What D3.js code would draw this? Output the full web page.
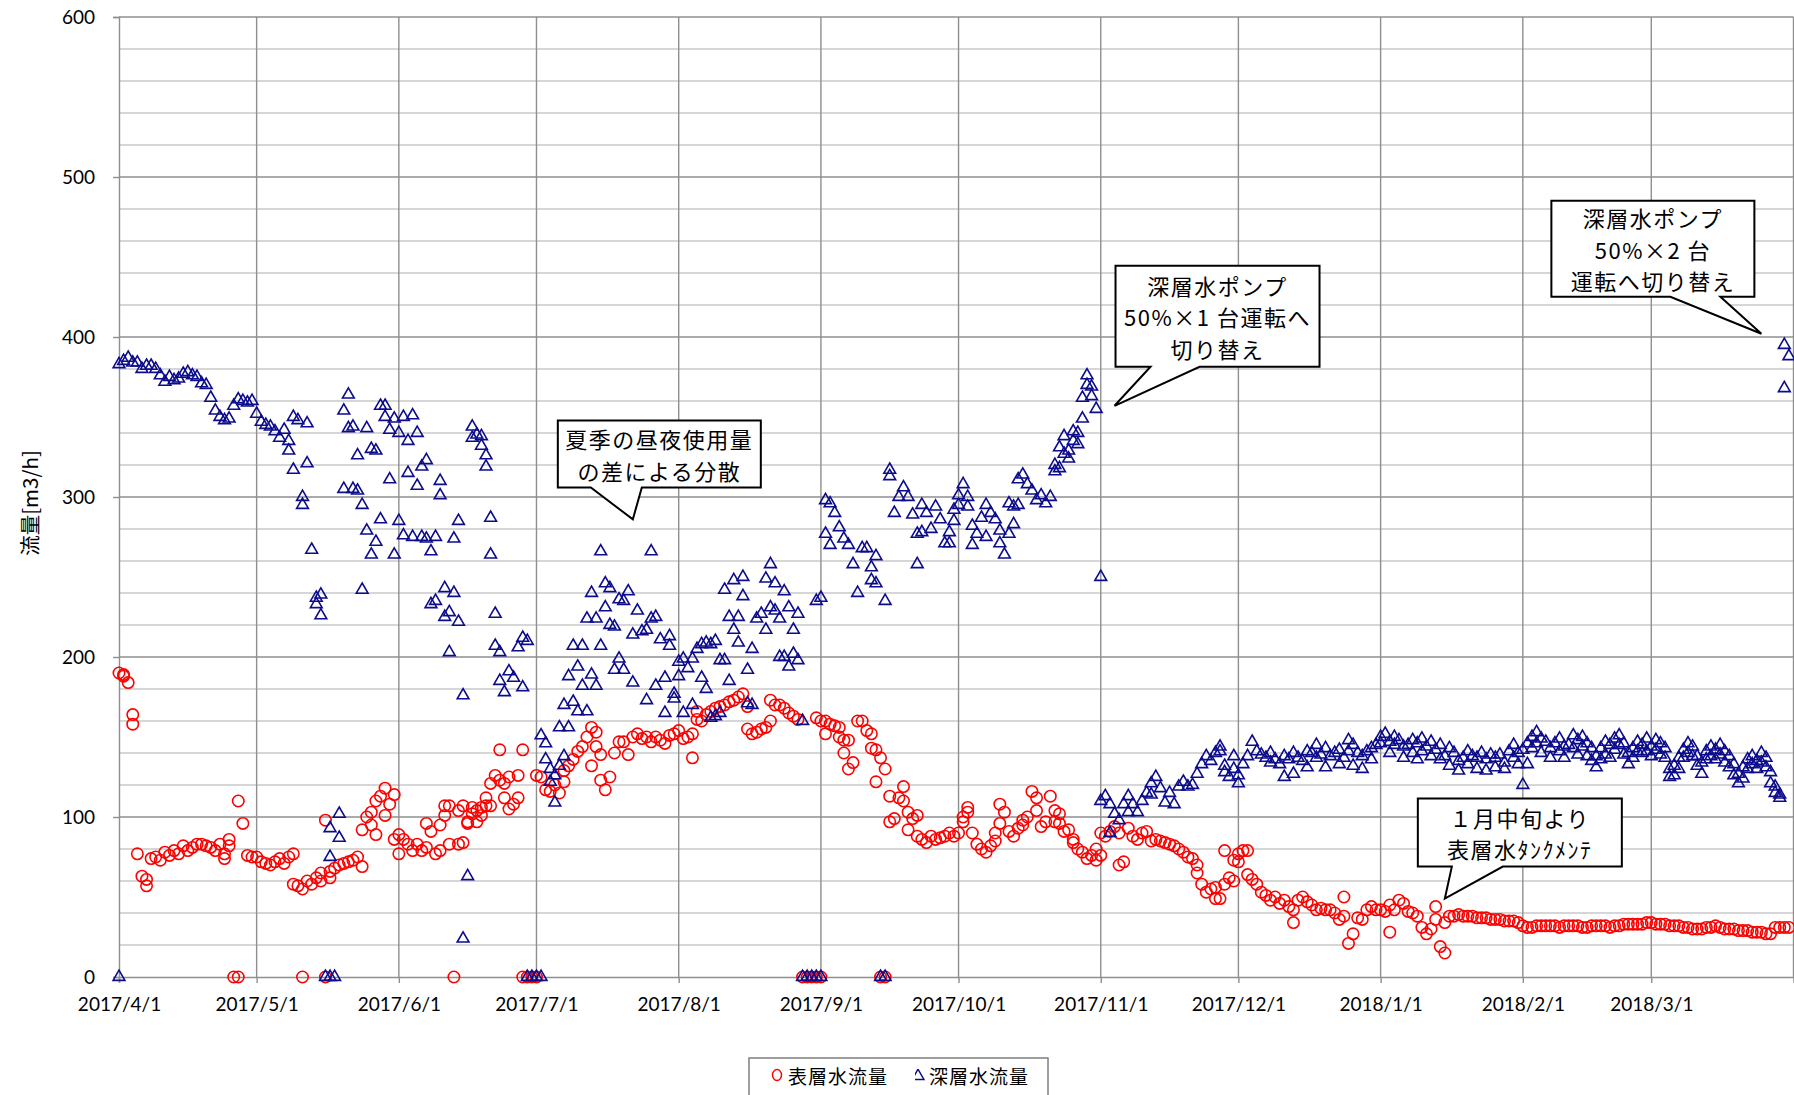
<!DOCTYPE html>
<html>
<head>
<meta charset="utf-8">
<script src="https://cdn.jsdelivr.net/npm/d3@7"></script>
<style>
  body { margin: 0; background: #fff; }
  svg { display: block; }
  .jp { font-family: "Noto Sans CJK JP", sans-serif; }
</style>
</head>
<body>
<svg id="chart" width="1794" height="1095"></svg>
<script>
// first day of the daily series, and the month labels on the x axis
const firstDay = '2017-04-01'
const lastDay = '2018-04-01'
const monthLabels = ['2017/4/1', '2017/5/1', '2017/6/1', '2017/7/1', '2017/8/1', '2017/9/1',
  '2017/10/1', '2017/11/1', '2017/12/1', '2018/1/1', '2018/2/1', '2018/3/1']
const yTicks = [0, 100, 200, 300, 400, 500, 600]
const seriesNames = ['表層水流量', '深層水流量']

// one entry per day, a [a, b] pair where the day has two readings (m3/h)
const surfaceFlow = [
  // Apr
  190, [188, 189], 184, [158, 164], 77, 63, [57, 61], 74, 75, 73, 78, 76, 79, 77, 82, 79, 81, 83, 83, 82, 81, 79, 83, [77, 74], [86, 82], 0, [0, 110], 96, 76, 75,
  // May
  75, 72, 71, 70, 72, 74, 71, 75, [77, 58], 57, [0, 55], 60, 58, 62, [65, 60], [0, 98], [62, 66], 68, 70, 71, 72, 73, 75, [69, 92], 100, [103, 95], [89, 110], 113, [118, 101], 108, [114, 86],
  // Jun
  [89, 77], 86, 83, 79, 83, 79, [96, 81], 91, 77, [95, 79], [101, 107], [107, 83], 0, [104, 83], [107, 84], [96, 97], [102, 106], [97, 104], [101, 106], [107, 112], [107, 121], 126, [123, 142], [112, 121], [105, 125], 108, [112, 126], [142, 0], 0, 0,
  // Jul
  [0, 126], 125, 117, 116, 120, 115, [122, 129], 132, 136, 141, 144, 150, [156, 132], [153, 144], [139, 123], 117, 125, 140, 147, 147, 139, 150, 152, 149, 150, 147, 150, 148, 146, 151, 152,
  // Aug
  154, 149, 150, [137, 152], [161, 166], 160, 164, 166, 168, 169, 170, 172, 173, 175, 177, [169, 155], 152, 153, 155, 156, [160, 173], 170, 170, 168, 165, 163, 161, 0, 0, 0, [0, 162],
  // Sep
  [0, 160], [160, 152], 158, 157, [156, 150], [148, 140], [130, 148], 134, 160, 160, 154, [152, 143], [142, 122], [0, 137], [0, 130], [113, 97], 99, 112, [119, 110], [103, 92], 99, [101, 88], 86, 84, 88, 86, 87, 88, 90, 88,
  // Oct
  90, [100, 97], [106, 103], 90, 83, 80, 78, 82, [90, 85], [96, 108], 103, 91, 88, 93, [95, 98], 100, 116, [112, 104], 94, 97, 113, [104, 97], [102, 96], 91, 92, [84, 86], 80, 78, 74, 76, [80, 73],
  // Nov
  [76, 90], 88, 91, 94, [70, 90], 72, 93, 88, 86, 90, 91, 85, 86, 85, 84, 83, 82, 80, 78, 75, 74, [70, 65], 58, 53, 55, [49, 56], 49, [58, 79], 62, [73, 60],
  // Dec
  [77, 72], 79, [79, 64], 61, 58, 53, 51, 48, 50, 46, 48, 44, [42, 34], 48, 50, 47, 45, 42, 43, 42, 42, 40, 36, [50, 38], 21, 27, 37, 36, 42, 44, 42,
  // Jan
  42, 41, [28, 45], 42, 48, 46, 41, 40, 38, 31, 27, 30, [36, 44], 19, [15, 34], 38, 38, 39, 38, 38, 38, 37, 37, 37, 36, 36, 36, 35, 35, 35, 34,
  // Feb
  32, 31, 31, 32, 32, 32, 32, 32, 31, 32, 32, 32, 32, 31, 31, 32, 32, 32, 32, 31, 32, 32, 33, 33, 33, 33, 33, 34,
  // Mar
  34, 33, 33, 33, 32, 32, 32, 31, 31, 30, 30, 30, 31, 31, 32, 31, 30, 30, 30, 29, 29, 29, 28, 28, 28, 27, 27, 31, 31, 31, 31
]

const deepFlow = [
  // Apr
  [383, 0], 385, 387, 384, 384, 380, 382, 382, 380, 376, 372, 375, 373, 374, 377, 378, 376, 375, 371, 370, 362, 354, 350, 348, 349, 357, 361, 360, 359, 360,
  // May
  352, 347, 345, 344, 341, 337, 342, [335, 329], [350, 317], 348, [300, 295], [346, 321], 267, [237, 233], [239, 226], 0, [93, 75, 0], 0, [102, 87], [354, 305], [364, 343], [344, 305], [326, 304], [295, 242], [343, 279], [330, 264], [329, 272], [357, 286], [357, 350], [342, 311], [349, 264],
  // Jun
  [340, 285], [350, 276], [335, 315], [351, 275], [340, 307], [319, 275], [323, 274], [266, 233], [275, 235], [310, 301], [243, 225], [228, 203], [274, 240], [285, 222], [176, 24], 63, [344, 337], 339, [338, 332], [326, 319], [287, 264], [227, 207], [203, 185], 178, 191, 187, 206, [212, 181], [0, 210], 0,
  // Jul
  0, [0, 151], [146, 136], [130, 122], [109, 126], [156, 132], [170, 138], [156, 188], [172, 207], [166, 194], [182, 207], [166, 224], [189, 240], [182, 224], [207, 266], [246, 231], [243, 220], [219, 192], [236, 199], [235, 192], 241, [214, 184], 229, 216, [173, 217], [266, 224], [225, 182], 211, [187, 165], [213, 207], [177, 174],
  // Aug
  [188, 197], [165, 199], 193, [199, 170], 205, [208, 187], [209, 180], [208, 162], [210, 163], [165, 198], [198, 242], [185, 225], [248, 217], [225, 209], [250, 238], [192, 171], [205, 170], 224, 227, [217, 249], [258, 231], [246, 229], [224, 200], [241, 200], [231, 194], [217, 202], [227, 198], [0, 160], 0, 0, [0, 235],
  // Sep
  [0, 237], [298, 277], [296, 270], 290, 281, 274, 270, 258, 240, 268, 268, [256, 248], [263, 246], 0, [0, 235], [317, 313], 290, 300, 306, 300, 289, [277, 258], [278, 295], 290, 280, 294, 286, 271, [278, 271], [285, 292],
  // Oct
  [295, 301], 308, [300, 294], [282, 270], 277, 287, [295, 275], 290, 286, [279, 271], 264, [277, 296], [294, 283], [295, 311], 314, 308, 304, 298, 301, 296, 300, [316, 320], [331, 318], [327, 338], [324, 329], [335, 341], [340, 333], [349, 362], [376, 370], [369, 363], 355,
  // Nov
  [250, 110], 113, [108, 90], 102, 98, 108, [113, 103], 108, 103, 110, 115, [121, 114], 125, 118, 109, 115, 108, 119, 122, 119, 120, 127, 133, 138, 135, 140, [144, 141], [132, 128], 125, [138, 130],
  // Dec
  [121, 126], 133, 138, 147, 141, 139, 137, [134, 140], 136, 133, [125, 138], 136, [127, 140], 137, 135, [141, 131], 140, [145, 137], 139, [143, 131], 138, 140, [142, 133], 137, [148, 141], [145, 132], 140, [138, 130], 141, [143, 136], 145,
  // Jan
  [150, 146], 152, [147, 140], [150, 145], 148, [144, 137], 145, [148, 140], [146, 136], [149, 141], 144, [147, 138], 142, [145, 136], 138, [143, 132], 140, [135, 129], 137, [141, 133], 138, [130, 137], 140, [136, 129], 139, [137, 131], 139, [134, 130], 141, [145, 137], [140, 133],
  // Feb
  [120, 142], [146, 133], [150, 143], [153, 146], [149, 140], 147, [143, 137], 146, [149, 141], [144, 137], 145, [151, 143], [148, 139], [150, 144], [146, 138], [143, 135], [138, 131], [143, 136], [147, 139], [145, 137], [149, 142], [151, 145], [146, 139], [140, 133], [143, 137], [147, 141], [145, 140], [149, 141],
  // Mar
  [144, 138], [148, 142], [146, 139], [143, 137], [130, 125], [126, 132], [137, 130], [142, 137], [146, 140], [144, 138], [138, 132], [134, 127], [141, 136], [144, 138], [142, 136], [145, 139], [141, 134], [138, 131], [133, 126], [127, 121], [131, 124], [136, 130], [138, 133], [135, 130], [140, 134], [137, 131], [128, 121], [119, 115], [114, 112], [395, 368], 388
]

// callout texts and the point each one points at
const notes = [
  { lines: ['夏季の昼夜使用量', 'の差による分散'], date: '2017-07-22', value: 286 },
  { lines: ['深層水ポンプ', '50%×1 台運転へ', '切り替え'], date: '2017-11-04', value: 357 },
  { lines: ['深層水ポンプ', '50%×2 台', '運転へ切り替え'], date: '2018-03-25', value: 402 },
  { lines: ['１月中旬より', '表層水ﾀﾝｸﾒﾝﾃ'], date: '2018-01-15', value: 49 }
]
// callout box placement relative to the pointed point (px)
const noteBoxes = [
  { dx: -75, dy: -99, w: 203, h: 67, tail: [33, 84] },
  { dx: 1, dy: -140, w: 204, h: 101, tail: [35, 84] },
  { dx: -210, dy: -133, w: 203, h: 96, tail: [119, 169] },
  { dx: -27, dy: -100, w: 204, h: 68, tail: [34, 85] }
]

const plotLeft = 119
const plotRight = 1793.5
const plotTop = 17
const plotBottom = 977

const parse = d3.utcParse('%Y-%m-%d')
const dayMs = 864e5
const x = d3.scaleUtc().domain([parse(firstDay), parse(lastDay)]).range([plotLeft, plotRight])
const y = d3.scaleLinear().domain([0, 600]).range([plotBottom, plotTop])

const svg = d3.select('#chart')

/**
 * Turns the daily list into one point per reading.
 */
function toPoints (values) {
  const start = parse(firstDay).getTime()
  return values.flatMap((v, i) => [].concat(v).map(val => ({ date: new Date(start + i * dayMs), value: val })))
}

// grid
const grid = svg.append('g').attr('class', 'grid')
grid.selectAll('.minor')
  .data(d3.range(20, 600, 20).filter(v => v % 100 !== 0))
  .join('line')
  .attr('x1', plotLeft).attr('x2', plotRight)
  .attr('y1', d => y(d)).attr('y2', d => y(d))
  .attr('stroke', '#c8c8c8').attr('stroke-width', 1.4)

const monthDates = monthLabels.map(d3.utcParse('%Y/%-m/%-d'))
grid.selectAll('.vline')
  .data(monthDates.slice(1).concat([parse(lastDay)]))
  .join('line')
  .attr('x1', d => x(d)).attr('x2', d => x(d))
  .attr('y1', plotTop).attr('y2', plotBottom)
  .attr('stroke', '#8f8f8f').attr('stroke-width', 1.4)

grid.selectAll('.major')
  .data(yTicks.slice(1))
  .join('line')
  .attr('x1', plotLeft).attr('x2', plotRight)
  .attr('y1', d => y(d)).attr('y2', d => y(d))
  .attr('stroke', '#8f8f8f').attr('stroke-width', 1.4)

// axes
const yAxis = svg.append('g')
  .attr('class', 'y-axis')
  .attr('transform', 'translate(' + plotLeft + ',0)')
  .call(d3.axisLeft(y).tickValues(yTicks).tickSize(6).tickPadding(18))
yAxis.attr('font-family', 'Lato, sans-serif').attr('font-size', 19)
yAxis.selectAll('line, path').attr('stroke', '#8f8f8f').attr('stroke-width', 1.4)
yAxis.selectAll('text').attr('fill', '#000')

const xAxis = svg.append('g')
  .attr('class', 'x-axis')
  .attr('transform', 'translate(0,' + plotBottom + ')')
  .call(d3.axisBottom(x).tickValues(monthDates).tickSize(6).tickPadding(15)
    .tickFormat((d, i) => monthLabels[i]))
xAxis.attr('font-family', 'Lato, sans-serif').attr('font-size', 19)
xAxis.selectAll('line, path').attr('stroke', '#8f8f8f').attr('stroke-width', 1.4)
xAxis.selectAll('text').attr('fill', '#000')

svg.append('text')
  .attr('class', 'jp')
  .attr('transform', 'translate(29,' + (plotTop + plotBottom + 12) / 2 + ') rotate(-90)')
  .attr('text-anchor', 'middle')
  .attr('dominant-baseline', 'central')
  .attr('font-size', 20.5)
  .text('流量[m3/h]')

// series
svg.append('g').attr('class', 'surface')
  .selectAll('circle')
  .data(toPoints(surfaceFlow))
  .join('circle')
  .attr('cx', d => x(d.date))
  .attr('cy', d => y(d.value))
  .attr('r', 5.7)
  .attr('fill', 'none')
  .attr('stroke', '#ff0000')
  .attr('stroke-width', 1.6)

const triangle = d3.symbol(d3.symbolTriangle, 60)
svg.append('g').attr('class', 'deep')
  .selectAll('path')
  .data(toPoints(deepFlow))
  .join('path')
  .attr('d', triangle)
  .attr('transform', d => 'translate(' + x(d.date) + ',' + y(d.value) + ')')
  .attr('fill', 'none')
  .attr('stroke', '#0c0c8c')
  .attr('stroke-width', 1.6)

// callouts
notes.forEach((note, i) => {
  const box = noteBoxes[i]
  const tx = x(parse(note.date))
  const ty = y(note.value)
  const bx = tx + box.dx
  const by = ty + box.dy
  const path = d3.path()
  path.moveTo(bx, by)
  path.lineTo(bx + box.w, by)
  path.lineTo(bx + box.w, by + box.h)
  path.lineTo(bx + box.tail[1], by + box.h)
  path.lineTo(tx, ty)
  path.lineTo(bx + box.tail[0], by + box.h)
  path.lineTo(bx, by + box.h)
  path.closePath()

  const g = svg.append('g').attr('class', 'note')
  g.append('path')
    .attr('d', path.toString())
    .attr('fill', '#fff')
    .attr('stroke', '#000')
    .attr('stroke-width', 2)
    .attr('stroke-linejoin', 'miter')

  const lineH = 31.5
  const cy = by + box.h / 2
  g.selectAll('text')
    .data(note.lines)
    .join('text')
    .attr('class', 'jp')
    .attr('x', bx + box.w / 2)
    .attr('y', (d, j) => cy + (j - (note.lines.length - 1) / 2) * lineH)
    .attr('text-anchor', 'middle')
    .attr('dominant-baseline', 'central')
    .attr('font-size', 22)
    .attr('letter-spacing', 1.5)
    .text(d => d)
})

// legend
const legend = svg.append('g').attr('class', 'legend')
legend.append('rect')
  .attr('x', 749).attr('y', 1058)
  .attr('width', 299).attr('height', 50)
  .attr('fill', '#fff')
  .attr('stroke', '#7f7f7f')
  .attr('stroke-width', 1.5)

legend.append('ellipse')
  .attr('cx', 777).attr('cy', 1075)
  .attr('rx', 4.5).attr('ry', 5.5)
  .attr('fill', 'none').attr('stroke', '#ff0000').attr('stroke-width', 1.5)

// the legend triangle shows only its lower right part
svg.append('clipPath').attr('id', 'legend-clip')
  .append('rect').attr('x', 915).attr('y', 1069).attr('width', 14).attr('height', 20)
legend.append('g')
  .attr('clip-path', 'url(#legend-clip)')
  .append('path')
  .attr('d', triangle)
  .attr('transform', 'translate(918,1076)')
  .attr('fill', 'none').attr('stroke', '#0c0c8c').attr('stroke-width', 1.5)

legend.selectAll('.label')
  .data(seriesNames)
  .join('text')
  .attr('class', 'jp')
  .attr('x', (d, i) => i === 0 ? 788 : 929)
  .attr('y', 1075)
  .attr('dominant-baseline', 'central')
  .attr('font-size', 19)
  .attr('letter-spacing', 1)
  .text(d => d)
</script>
</body>
</html>
